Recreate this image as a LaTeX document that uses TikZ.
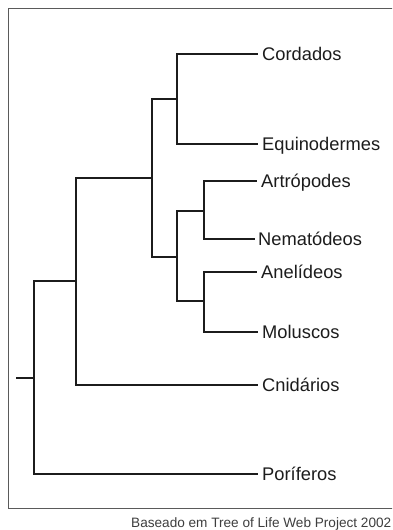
\documentclass[tikz,border=0pt]{standalone}
\usepackage{fontspec}
\setmainfont{Liberation Sans}
\definecolor{ink}{HTML}{1C1C1C}
\definecolor{framegray}{HTML}{5A5A5A}
\begin{document}
\begin{tikzpicture}[x=1pt,y=-1pt,
  branch/.style={draw=ink,line width=1.4pt},
  lab/.style={anchor=base west,inner sep=0pt,xshift=4pt,yshift=-6.4pt,text=ink,font=\fontsize{18.3}{20}\selectfont},
  captiontext/.style={anchor=base west,inner sep=0pt,text=ink!85,font=\fontsize{13.6}{15}\selectfont}]
\useasboundingbox (0,0) rectangle (392,530);
\clip (0,0) rectangle (392,530);
\fill[white] (0,0) rectangle (392,530);
\draw[framegray,line width=1pt] (8,8) rectangle (402,508);
% internal nodes
\coordinate (r0) at (16,378);
\coordinate (n0) at (34,378);
\coordinate (n1) at (76,281);
\coordinate (n2) at (152,178);
\coordinate (n3) at (177,99);
\coordinate (n4) at (177,257);
\coordinate (n5) at (204,211);
\coordinate (n6) at (204,301);
% tips
\coordinate (tc) at (258,54);
\coordinate (te) at (258,144);
\coordinate (ta) at (257,181);
\coordinate (tn) at (255,239);
\coordinate (tan) at (257,272);
\coordinate (tm) at (258,332);
\coordinate (tcn) at (258,385);
\coordinate (tp) at (258,474);
% labels
\node[lab] (cord) at (tc) {Cordados};
\node[lab] (equi) at (te) {Equinodermes};
\node[lab] (artr) at (ta) {Artrópodes};
\node[lab,xshift=-1pt] (nema) at (tn) {Nematódeos};
\node[lab] (aneli) at (tan) {Anelídeos};
\node[lab] (molu) at (tm) {Moluscos};
\node[lab] (cnid) at (tcn) {Cnidários};
\node[lab] (pori) at (tp) {Poríferos};
% branches
\draw[branch] (r0) -- (n0);
\draw[branch] (n0) |- (n1);
\draw[branch] (n0) |- (tp);
\draw[branch] (n1) |- (n2);
\draw[branch] (n1) |- (tcn);
\draw[branch] (n2) |- (n3);
\draw[branch] (n2) |- (n4);
\draw[branch] (n3) |- (tc);
\draw[branch] (n3) |- (te);
\draw[branch] (n4) |- (n5);
\draw[branch] (n4) |- (n6);
\draw[branch] (n5) |- (ta);
\draw[branch] (n5) |- (tn);
\draw[branch] (n6) |- (tan);
\draw[branch] (n6) |- (tm);
% caption
\node[captiontext] (caption) at (131,527) {Baseado em Tree of Life Web Project 2002};
\end{tikzpicture}
\end{document}
